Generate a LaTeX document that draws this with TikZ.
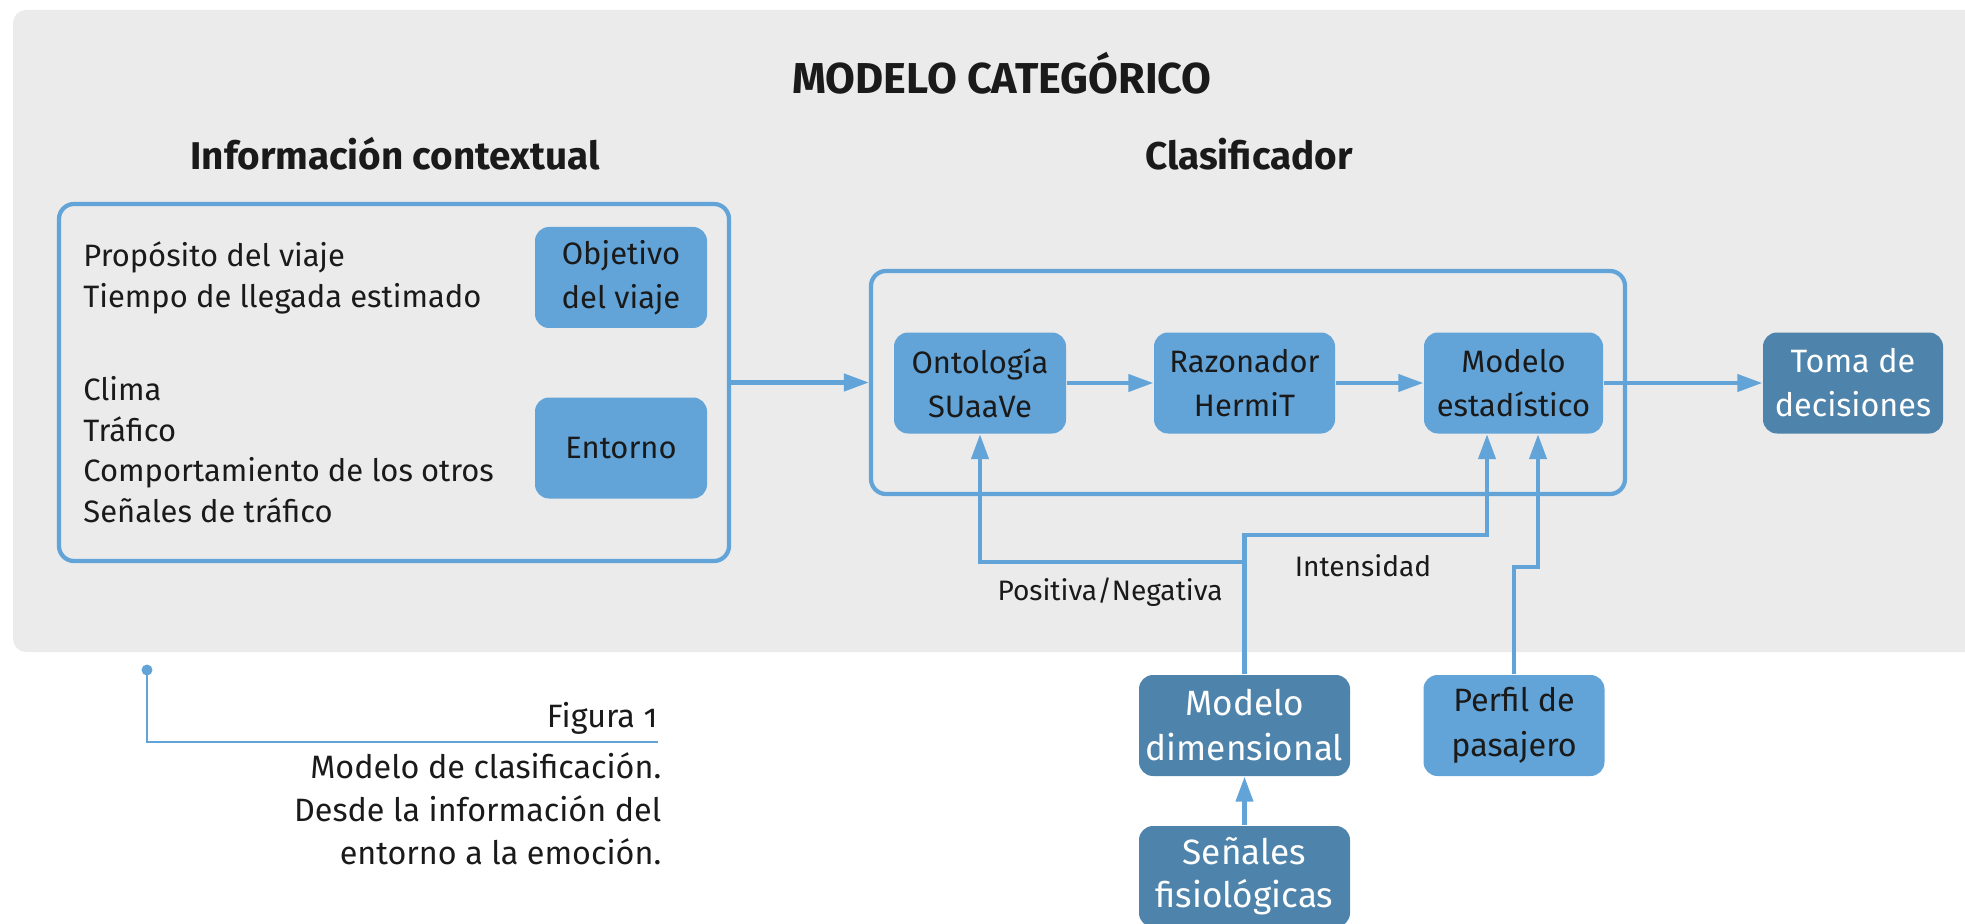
\documentclass[tikz,border=0pt]{standalone}
\usepackage{fontspec}
\setmainfont[Numbers=OldStyle]{Fira Sans}
\usetikzlibrary{positioning,calc,arrows.meta}
\definecolor{azul}{RGB}{98,164,216}
\definecolor{azuloscuro}{RGB}{78,132,171}
\definecolor{fondo}{RGB}{235,235,235}
\definecolor{texto}{RGB}{26,26,26}
\tikzset{
    diagrama/.style={
        font=\fontsize{8.8}{12.5}\selectfont,
        text=texto,
        % Cajas azules (claras y oscuras)
        caja/.style={fill=azul, rounded corners=0.14cm, align=center,
                     minimum height=1.01cm, inner sep=0pt},
        cajaoscura/.style={caja, fill=azuloscuro, text=white},
        % Marcos y conectores
        marco/.style={draw=azul, line width=1.2pt, rounded corners=0.15cm,
                      inner sep=0pt},
        linea/.style={draw=azul, line width=1.2pt},
        flecha/.style={linea, -{Triangle[length=0.25cm, width=0.17cm]}},
        % Textos
        titulo/.style={font=\fontsize{11}{13}\selectfont\bfseries},
        lista/.style={anchor=west, align=left,
                      font=\fontsize{8.8}{11.5}\selectfont},
        etiqueta/.style={font=\fontsize{8}{10}\selectfont},
        pie/.style={inner sep=0pt, font=\fontsize{9.2}{12.3}\selectfont}
    }
}

\begin{document}
\begin{tikzpicture}[diagrama]
  \useasboundingbox (0,0) rectangle (19.65,9.23);
  \fill[fondo, rounded corners=0.13cm] (0.13,2.71) rectangle (20.2,9.13);

  % Títulos
  \node[titulo, font=\fontsize{12.3}{14}\selectfont\bfseries] (titulo) at (10.02,8.50) {MODELO CATEGÓRICO};
  \node[titulo] (info) at (3.95,7.69) {Información contextual};
  \node[titulo] (clasif) at (12.49,7.69) {Clasificador};

  % Información contextual
  \node[marco, minimum width=6.70cm, minimum height=3.57cm] (contexto) at (3.94,5.405) {};
  \node[lista] (viaje) at (0.71,6.45) {Propósito del viaje\\Tiempo de llegada estimado};
  \node[lista] (medio) at (0.71,4.735) {Clima\\Tráfico\\Comportamiento de los otros\\Señales de tráfico};
  \node[caja, minimum width=1.72cm] (objetivo) at (6.21,6.455) {Objetivo\\del viaje};
  \node[caja, minimum width=1.72cm] (entorno) at (6.21,4.75) {Entorno};

  % Clasificador
  \node[marco, minimum width=7.54cm, minimum height=2.23cm] (clasificador) at (12.48,5.405) {};
  \node[caja, minimum width=1.72cm] (onto) at (9.80,5.40) {Ontología\\SUaaVe};
  \node[caja, minimum width=1.81cm] (razon) at (12.445,5.40) {Razonador\\HermiT};
  \node[caja, minimum width=1.79cm] (est) at (15.135,5.40) {Modelo\\estadístico};
  \node[cajaoscura, minimum width=1.80cm, font=\fontsize{9.2}{12.5}\selectfont] (toma) at (18.53,5.40) {Toma de\\decisiones};

  % Entradas
  \node[cajaoscura, minimum width=2.11cm, font=\fontsize{10}{12.8}\selectfont] (dim) at (12.445,1.975) {Modelo\\dimensional};
  \node[caja, minimum width=1.81cm, font=\fontsize{9.2}{12.8}\selectfont] (perfil) at (15.14,1.975) {Perfil de\\pasajero};
  \node[cajaoscura, minimum width=2.11cm, font=\fontsize{10}{12.3}\selectfont] (senales) at (12.445,0.465) {Señales\\fisiológicas};

  \draw[flecha] (contexto) -- (clasificador);
  \draw[flecha] (onto) -- (razon);
  \draw[flecha] (razon) -- (est);
  \draw[flecha] (est) -- (toma);
  \draw[flecha] (senales) -- (dim);
  \draw[flecha] (dim) -- ++(0,1.905) -| ([xshift=-0.265cm]est.south);
  \draw[flecha] (dim) -- ++(0,1.635) -| (onto.south);
  \draw[flecha] (perfil) -- ++(0,1.585) -| ([xshift=0.245cm]est.south);

  \node[etiqueta] (intensidad) at (13.63,3.57) {Intensidad};
  \node[etiqueta] (valencia) at (11.10,3.31) {Positiva/Negativa};

  % Pie de figura
  \coordinate (punto) at (1.47,2.53);
  \coordinate (esquina) at (1.47,1.81);
  \coordinate (fin) at (6.58,1.81);
  \fill[azul] (punto) circle (0.055);
  \draw[linea, line width=0.8pt] (punto) -- (esquina) -- (fin);
  \node[pie, anchor=east] (figura) at (6.58,2.05) {Figura 1};
  \node[pie, anchor=east, align=right] (leyenda) at (6.62,1.14)
    {Modelo de clasificación.\\Desde la información del\\entorno a la emoción.};
\end{tikzpicture}
\end{document}
